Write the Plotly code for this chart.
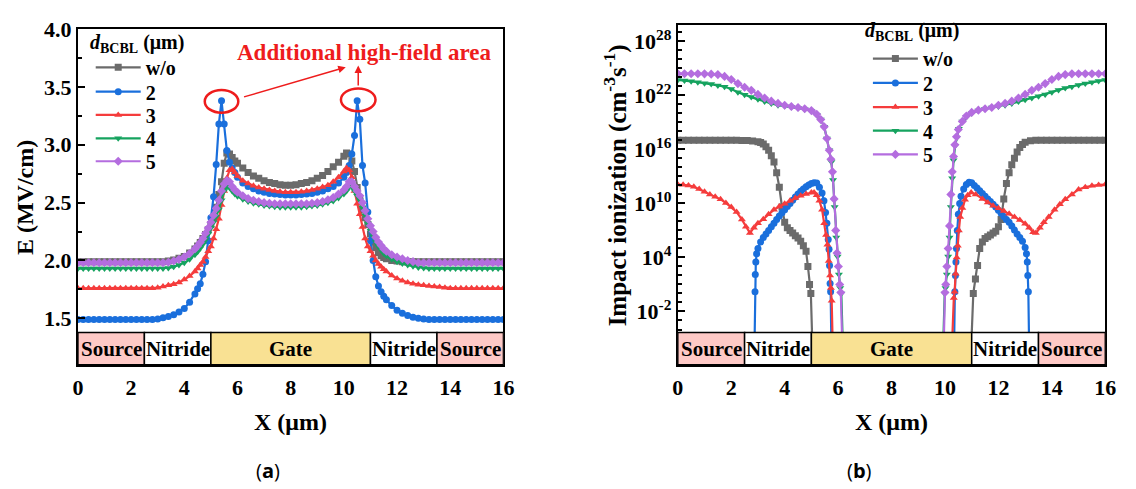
import plotly.graph_objects as go

SERIF = "Liberation Serif"
SANS = "Open Sans"

# ---------------- panel (a): electric field E (MV/cm) vs X (um) ----------------
x_field = [0.0,0.2,0.4,0.6,0.8,1.0,1.2,1.4,1.6,1.8,2.0,2.2,2.4,2.6,2.8,3.0,3.2,3.4,3.6,3.8,4.0,4.2,4.4,
           4.5,4.6,4.7,4.8,4.9,5.0,5.1,5.2,5.3,5.4,5.5,5.6,5.7,5.8,5.9,6.0,
           6.2,6.4,6.6,6.8,7.0,7.2,7.4,7.6,7.8,8.0,8.2,8.4,8.6,8.8,9.0,9.2,9.4,9.6,9.8,
           10.0,10.1,10.2,10.3,10.4,10.5,10.6,10.7,10.8,10.9,11.0,11.1,11.2,11.3,11.4,11.5,
           11.6,11.8,12.0,12.2,12.4,12.6,12.8,13.0,13.2,13.4,13.6,13.8,14.0,14.2,14.4,14.6,14.8,15.0,15.2,15.4,15.6,15.8,16.0]

E_wo = [1.99,1.99,1.99,1.99,1.99,1.99,1.99,1.99,1.99,1.99,1.99,1.99,1.99,1.99,1.99,1.99,1.99,
        1.995,2.005,2.02,2.035,2.065,2.10,
        2.125,2.155,2.19,2.225,2.265,2.31,2.37,2.46,2.57,2.68,2.84,2.93,2.92,2.89,2.86,2.84,
        2.80,2.76,2.73,2.71,2.69,2.675,2.665,2.655,2.65,2.65,
        2.655,2.665,2.675,2.69,2.71,2.735,2.77,2.81,2.85,
        2.90,2.93,2.92,2.86,2.77,2.63,2.52,2.44,2.37,2.31,2.23,2.16,2.11,2.07,2.04,2.025,
        2.015,2.0,1.995,1.99,1.99,1.99,1.99,1.99,1.99,1.99,1.99,1.99,1.99,1.99,1.99,1.99,1.99,1.99,1.99,1.99,1.99,1.99,1.99]

E_2 = [1.49,1.49,1.49,1.49,1.49,1.49,1.49,1.49,1.49,1.49,1.49,1.49,1.49,1.49,1.49,
       1.495,1.505,1.515,1.53,1.555,1.585,1.64,1.71,
       1.755,1.80,1.88,1.99,2.17,2.37,2.55,2.83,3.18,3.38,3.18,2.95,2.85,2.80,2.76,2.72,
       2.67,2.64,2.62,2.60,2.59,2.58,2.575,2.57,2.565,2.565,
       2.565,2.57,2.575,2.58,2.59,2.60,2.62,2.64,2.67,
       2.72,2.76,2.82,2.92,3.08,3.38,3.22,2.82,2.67,2.42,2.17,2.0,1.86,1.78,1.73,1.69,
       1.66,1.61,1.57,1.545,1.525,1.51,1.50,1.495,
       1.49,1.49,1.49,1.49,1.49,1.49,1.49,1.49,1.49,1.49,1.49,1.49,1.49,1.49,1.49]

E_3 = [1.76,1.76,1.76,1.76,1.76,1.76,1.76,1.76,1.76,1.76,1.76,1.76,1.76,1.76,1.76,
       1.765,1.775,1.785,1.795,1.81,1.835,1.865,1.905,
       1.93,1.96,1.99,2.03,2.08,2.12,2.19,2.27,2.36,2.48,2.60,2.71,2.78,2.79,2.76,2.73,
       2.69,2.665,2.645,2.63,2.62,2.61,2.60,2.595,2.59,2.59,
       2.59,2.595,2.60,2.61,2.62,2.635,2.65,2.68,2.72,
       2.77,2.80,2.78,2.72,2.60,2.49,2.40,2.29,2.19,2.12,2.08,2.04,2.0,1.97,1.945,1.925,
       1.905,1.87,1.845,1.825,1.81,1.80,1.79,1.785,1.78,1.775,1.77,1.765,
       1.76,1.76,1.76,1.76,1.76,1.76,1.76,1.76,1.76,1.76,1.76]

E_4 = [1.93,1.93,1.93,1.93,1.93,1.93,1.93,1.93,1.93,1.93,1.93,1.93,1.93,1.93,1.93,1.93,1.93,
       1.935,1.945,1.96,1.98,2.01,2.05,
       2.075,2.105,2.14,2.18,2.23,2.28,2.33,2.38,2.44,2.52,2.60,2.64,2.63,2.60,2.575,2.555,
       2.53,2.51,2.495,2.485,2.475,2.47,2.465,2.46,2.46,2.46,
       2.46,2.46,2.465,2.47,2.475,2.485,2.50,2.515,2.54,
       2.575,2.60,2.635,2.64,2.60,2.56,2.52,2.46,2.39,2.32,2.26,2.21,2.16,2.12,2.09,2.06,
       2.04,2.01,1.99,1.975,1.96,1.95,1.94,1.935,
       1.93,1.93,1.93,1.93,1.93,1.93,1.93,1.93,1.93,1.93,1.93,1.93,1.93,1.93,1.93]

E_5 = [1.98,1.98,1.98,1.98,1.98,1.98,1.98,1.98,1.98,1.98,1.98,1.98,1.98,1.98,1.98,1.98,1.98,
       1.985,1.995,2.01,2.03,2.06,2.10,
       2.125,2.155,2.19,2.235,2.28,2.33,2.39,2.45,2.52,2.60,2.66,2.69,2.68,2.64,2.61,2.59,
       2.56,2.535,2.52,2.51,2.50,2.495,2.49,2.49,2.49,2.49,
       2.49,2.49,2.49,2.495,2.50,2.51,2.525,2.545,2.575,
       2.61,2.64,2.68,2.68,2.64,2.60,2.56,2.50,2.43,2.36,2.30,2.25,2.20,2.16,2.13,2.10,
       2.08,2.05,2.03,2.015,2.0,1.99,
       1.98,1.98,1.98,1.98,1.98,1.98,1.98,1.98,1.98,1.98,1.98,1.98,1.98,1.98,1.98,1.98,1.98]

# ---------------- panel (b): impact ionization, log10 (cm^-3 s^-1) ----------------
x_ii_wo = [0.0,0.2,0.4,0.6,0.8,1.0,1.2,1.4,1.6,1.8,2.0,2.2,2.4,2.6,2.8,
           3.0,3.1,3.2,3.3,3.4,3.5,3.6,3.7,3.8,3.9,4.0,4.1,4.2,4.3,4.4,4.5,4.6,4.7,4.8,
           4.87,4.93,4.98,5.04,
           10.98,11.06,11.14,11.22,11.3,11.4,11.5,11.6,11.7,11.8,11.9,12.0,12.1,12.2,12.3,12.4,12.5,
           12.6,12.7,12.8,12.9,13.0,13.2,13.4,13.6,13.8,14.0,14.2,14.4,14.6,14.8,15.0,15.2,15.4,15.6,15.8,16.0]
log_ii_wo = [17.0,17.0,17.0,17.0,17.0,17.0,17.0,17.0,17.0,17.0,17.0,17.0,16.98,16.97,16.94,
             16.85,16.75,16.6,16.3,15.9,15.3,14.6,13.4,11.8,9.6,7.9,7.3,7.0,6.7,6.4,6.15,5.8,5.3,4.7,
             3.0,1.0,0.0,-6.0,
             -6.0,0.0,1.6,3.1,5.0,5.7,6.1,6.3,6.5,6.7,6.9,7.4,8.2,10.5,12.2,13.4,14.3,
             15.0,15.7,16.2,16.55,16.8,16.95,17.0,17.0,17.0,17.0,17.0,17.0,17.0,17.0,17.0,17.0,17.0,17.0,17.0,17.0]

x_ii_2 = [2.87,2.89,2.9,2.92,2.95,
          3.0,3.1,3.2,3.3,3.4,3.5,3.6,3.7,3.8,3.9,4.0,4.1,4.2,4.3,4.4,4.5,4.6,4.7,4.8,4.9,5.0,5.1,5.2,5.3,5.4,
          5.47,5.53,5.58,5.63,5.66,5.68,5.7,5.72,5.75,
          10.34,10.37,10.39,10.41,10.43,10.46,10.5,10.55,10.6,
          10.7,10.8,10.9,11.0,11.1,11.2,11.3,11.4,11.5,11.6,11.7,11.8,11.9,12.0,12.1,12.2,12.3,12.4,12.5,12.6,
          12.7,12.8,12.9,13.0,
          13.05,13.08,13.1,13.12,13.15]
log_ii_2 = [-6.0,0.2,2.1,3.5,4.4,
            5.0,5.7,6.2,6.6,7.0,7.4,7.8,8.2,8.6,8.95,9.3,9.65,10.0,10.35,10.7,11.05,11.35,11.6,11.85,12.05,
            12.2,12.3,12.25,11.8,11.15,
            10.3,9.0,7.8,6.0,4.9,3.1,1.1,0.2,-6.0,
            -6.0,0.2,2.0,3.5,5.0,7.0,8.8,10.0,10.8,
            11.6,12.1,12.35,12.3,12.0,11.7,11.4,11.1,10.8,10.5,10.2,9.9,9.6,9.25,8.9,8.55,8.2,7.9,7.5,7.05,
            6.6,6.2,5.8,5.1,
            4.4,3.5,2.0,0.2,-6.0]

x_ii_3 = [0.0,0.2,0.4,0.6,0.8,1.0,1.2,1.4,1.6,1.8,2.0,2.2,2.4,2.55,2.7,2.85,
          3.0,3.2,3.4,3.6,3.8,4.0,4.2,4.4,4.6,4.8,5.0,5.1,5.2,5.3,5.4,
          5.48,5.55,5.6,5.65,5.7,5.73,5.76,5.8,
          10.26,10.33,10.36,10.4,10.44,10.48,10.52,10.57,10.65,10.75,10.85,10.98,11.15,11.4,11.6,11.8,
          12.0,12.2,12.4,12.6,12.8,13.0,13.15,13.3,13.4,13.55,13.7,13.88,14.1,14.3,14.5,14.75,15.0,
          15.25,15.5,15.75,16.0]
log_ii_3 = [12.1,12.07,12.0,11.85,11.6,11.3,11.0,10.75,10.45,10.05,9.6,9.05,8.2,7.4,6.7,7.3,
            7.8,8.25,8.8,9.3,9.65,9.95,10.3,10.6,10.85,11.05,11.2,11.2,10.9,10.3,9.3,
            7.8,6.5,5.4,3.6,2.0,0.6,-0.8,-6.0,
            -6.0,-0.5,0.2,2.2,4.0,5.3,7.0,8.5,9.5,10.4,10.9,11.2,11.0,10.5,10.1,9.75,
            9.45,9.15,8.85,8.5,8.15,7.75,7.3,6.8,6.7,7.3,7.9,8.5,9.3,9.9,10.45,11.0,11.55,
            11.8,11.95,12.05,12.1]

x_ii_4 = [0.0,0.25,0.5,0.75,1.0,1.25,1.5,1.75,2.0,2.25,2.5,2.75,3.0,3.25,3.5,3.75,4.0,4.25,4.5,4.75,5.0,
          5.2,5.35,5.48,5.58,5.67,5.75,5.81,5.87,5.93,5.98,6.03,6.08,6.12,6.18,
          9.93,9.99,10.02,10.07,10.12,10.17,10.22,10.27,10.32,10.38,10.44,10.52,10.65,10.8,
          11.0,11.25,11.5,11.75,12.0,12.25,12.5,12.75,13.0,13.25,13.5,13.75,14.0,14.25,14.5,14.75,15.0,
          15.25,15.5,15.75,16.0]
log_ii_4 = [23.7,23.65,23.55,23.45,23.35,23.25,23.1,22.95,22.7,22.35,22.05,21.8,21.55,21.3,21.1,20.9,
            20.8,20.7,20.6,20.45,20.25,
            19.85,19.3,18.5,17.2,15.9,14.6,12.6,9.6,6.2,4.1,2.1,0.6,0.0,-6.0,
            -6.0,0.0,0.6,2.1,4.1,6.2,9.6,12.8,14.8,16.4,17.3,18.3,19.1,19.6,
            20.0,20.3,20.5,20.65,20.75,20.9,21.1,21.3,21.5,21.7,21.9,22.1,22.35,22.6,22.8,22.95,23.15,
            23.3,23.45,23.6,23.7]

x_ii_5 = [0.0,0.25,0.5,0.75,1.0,1.25,1.5,1.75,2.0,2.25,2.5,2.75,3.0,3.25,3.5,3.75,4.0,4.25,4.5,4.75,5.0,
          5.2,5.35,5.48,5.58,5.67,5.73,5.79,5.85,5.91,5.96,6.01,6.06,6.1,6.16,
          9.95,10.0,10.03,10.07,10.12,10.17,10.22,10.27,10.32,10.37,10.43,10.5,10.65,10.8,
          11.0,11.25,11.5,11.75,12.0,12.25,12.5,12.75,13.0,13.25,13.5,13.75,14.0,14.25,14.5,14.75,15.0,
          15.25,15.5,15.75,16.0]
log_ii_5 = [24.4,24.4,24.4,24.4,24.38,24.35,24.3,24.1,23.75,23.3,22.9,22.55,22.1,21.7,21.35,21.1,
            20.9,20.75,20.65,20.5,20.3,
            19.9,19.3,18.5,17.2,15.9,14.9,13.5,10.5,7.0,4.5,3.0,1.0,0.1,-6.0,
            -6.0,0.1,1.0,3.0,5.0,7.5,11.0,13.5,15.2,16.5,17.4,18.2,19.1,19.7,
            20.1,20.35,20.5,20.65,20.9,21.1,21.35,21.7,22.1,22.55,22.9,23.3,23.75,24.1,24.3,24.38,24.4,
            24.4,24.4,24.4,24.4]

series_names = ["w/o", "2", "3", "4", "5"]
series_colors = ["#6b6b6b", "#1a6fdc", "#f53c3c", "#16a35f", "#b46ddf"]
series_symbols = ["square", "circle", "triangle-up", "triangle-down", "diamond"]
field_series = [E_wo, E_2, E_3, E_4, E_5]
ii_x = [x_ii_wo, x_ii_2, x_ii_3, x_ii_4, x_ii_5]
ii_log = [log_ii_wo, log_ii_2, log_ii_3, log_ii_4, log_ii_5]

regions = ["Source", "Nitride", "Gate", "Nitride", "Source"]
region_start = [0.0, 2.5, 5.0, 11.0, 13.5]
region_end = [2.5, 5.0, 11.0, 13.5, 16.0]
region_fill = ["#FEC9C6", "#FFFFFF", "#F9E193", "#FFFFFF", "#FEC9C6"]

for ys in field_series:
    assert len(ys) == len(x_field), len(ys)
for xs, ls in zip(ii_x, ii_log):
    assert len(xs) == len(ls), (len(xs), len(ls))

W, H = 1136, 489

# legend entry rows (pixel anchors) for each panel
leg_rows_a = [56.7, 81.7, 105.5, 129.5, 153.0]
leg_rows_b = [47.7, 72.7, 97.5, 121.7, 146.0]

fig = go.Figure()
for i, (name, col, sym, ys) in enumerate(zip(series_names, series_colors, series_symbols, field_series)):
    fig.add_trace(go.Scatter(x=x_field, y=ys, name=name, mode="lines+markers",
                             line=dict(color=col, width=2.2),
                             marker=dict(symbol=sym, size=7, color=col),
                             xaxis="x", yaxis="y", legend="legend" if i == 0 else "legend%d" % (i + 1)))
for i, (name, col, sym, xs, ls) in enumerate(zip(series_names, series_colors, series_symbols, ii_x, ii_log)):
    fig.add_trace(go.Scatter(x=xs, y=[10.0 ** v for v in ls], name=name, mode="lines+markers",
                             line=dict(color=col, width=2.2),
                             marker=dict(symbol=sym, size=7, color=col),
                             xaxis="x2", yaxis="y2", legend="legend%d" % (i + 6)))

L_dom_x = [73 / W, 505 / W]
L_dom_y = [1 - 361.5 / H, 1 - 17.5 / H]
R_dom_x = [682 / W, 1116 / W]
R_dom_y = [1 - 361.5 / H, 1 - 13 / H]
band_L = 33 / 344
band_R = 33 / 348.5

TICK = 22
tickfont = dict(family=SERIF, size=TICK, color="black", weight="bold")
common_x = dict(range=[0, 16], tickvals=list(range(0, 17, 2)), ticks="", showline=True, mirror=True,
                linecolor="black", linewidth=2, showgrid=False, zeroline=False, tickfont=tickfont,
                ticklabelstandoff=2)

major_dec = [-2, 4, 10, 16, 22, 28]
legfont = dict(family=SERIF, size=20, color="black", weight="bold")
fig.update_layout(
    width=W, height=H, margin=dict(l=0, r=0, t=0, b=0),
    paper_bgcolor="white", plot_bgcolor="white", showlegend=True,
    font=dict(family=SERIF, size=20, color="black", weight="bold"),
    xaxis=dict(domain=L_dom_x, anchor="y", **common_x),
    yaxis=dict(domain=L_dom_y, anchor="x", range=[1.1, 4.0],
               tickvals=[1.5, 2.0, 2.5, 3.0, 3.5, 4.0], ticktext=["1.5", "2.0", "2.5", "3.0", "3.5", "4.0"],
               ticks="inside", ticklen=7, tickwidth=2, tickcolor="black",
               minor=dict(tickvals=[1.75, 2.25, 2.75, 3.25, 3.75], ticks="inside", ticklen=4, tickwidth=2,
                          tickcolor="black", showgrid=False),
               showline=True, mirror=True, linecolor="black", linewidth=2, showgrid=False, zeroline=False,
               tickfont=tickfont),
    xaxis2=dict(domain=R_dom_x, anchor="y2", **common_x),
    yaxis2=dict(domain=R_dom_y, anchor="x2", type="log", range=[-7.9, 29.84],
                tickvals=[10.0 ** k for k in major_dec],
                ticktext=["10<sup>%d</sup>" % k for k in major_dec],
                ticks="inside", ticklen=7, tickwidth=2, tickcolor="black",
                minor=dict(tickvals=[10.0 ** k for k in range(-4, 30) if k not in major_dec], ticks="inside",
                           ticklen=4, tickwidth=2, tickcolor="black", showgrid=False),
                showline=True, mirror=True, linecolor="black", linewidth=2, showgrid=False, zeroline=False,
                tickfont=tickfont),
)

legend_layout = {}
for i in range(5):
    key_a = "legend" if i == 0 else "legend%d" % (i + 1)
    key_b = "legend%d" % (i + 6)
    legend_layout[key_a] = dict(x=86 / W, y=1 - leg_rows_a[i] / H, xanchor="left", yanchor="middle",
                                bgcolor="rgba(0,0,0,0)", font=legfont, itemwidth=45, tracegroupgap=0,
                                visible=True)
    legend_layout[key_b] = dict(x=875 / W, y=1 - leg_rows_b[i] / H, xanchor="left", yanchor="middle",
                                bgcolor="rgba(0,0,0,0)", font=legfont, itemwidth=45, tracegroupgap=0,
                                visible=True)
fig.update_layout(**legend_layout)

shapes = []
annotations = []
for xa, ya, frac in (("x", "y domain", band_L), ("x2", "y2 domain", band_R)):
    for name, s, e, fc in zip(regions, region_start, region_end, region_fill):
        shapes.append(dict(type="rect", xref=xa, yref=ya, x0=s, x1=e, y0=0, y1=frac,
                           fillcolor=fc, line=dict(color="black", width=1.5), layer="above"))
        annotations.append(dict(xref=xa, yref=ya, x=(s + e) / 2, y=frac / 2, text=name, showarrow=False,
                                xanchor="center", yanchor="middle",
                                font=dict(family=SERIF, size=21, color="black", weight="bold")))

# highlight ellipses around the peaks of panel (a)
RED = "#ee1c1c"
shapes.append(dict(type="circle", xref="x", yref="y", x0=4.77, x1=6.03, y0=3.277, y1=3.473,
                   line=dict(color=RED, width=2.5), layer="above"))
shapes.append(dict(type="circle", xref="x", yref="y", x0=9.89, x1=11.19, y0=3.29, y1=3.487,
                   line=dict(color=RED, width=2.5), layer="above"))
annotations.append(dict(xref="x", yref="y", x=10.74, y=3.80, text="Additional high-field area",
                        showarrow=False, xanchor="center", yanchor="middle",
                        font=dict(family=SERIF, size=23, color=RED, weight="bold")))
annotations.append(dict(xref="x", yref="y", x=10.07, y=3.67, axref="x", ayref="y", ax=6.19, ay=3.41,
                        text="", showarrow=True, arrowhead=2, arrowsize=1, arrowwidth=1.5, arrowcolor=RED))
annotations.append(dict(xref="x", yref="y", x=10.54, y=3.685, axref="x", ayref="y", ax=10.54, ay=3.50,
                        text="", showarrow=True, arrowhead=2, arrowsize=1, arrowwidth=1.5, arrowcolor=RED))

# legend titles
for lx, ly in ((83, 32), (870, 20)):
    annotations.append(dict(xref="paper", yref="paper", x=lx / W, y=1 - ly / H, xanchor="left",
                            yanchor="middle", showarrow=False,
                            text="<i>d</i><sub>BCBL</sub> (μm)", font=legfont))

# axis titles and panel captions
title_font = dict(family=SERIF, size=24, color="black", weight="bold")
annotations += [
    dict(xref="paper", yref="paper", x=20 / W, y=1 - 190 / H, text="E (MV/cm)", textangle=-90,
         xanchor="center", yanchor="middle", showarrow=False, font=title_font),
    dict(xref="paper", yref="paper", x=619 / W, y=1 - 178 / H,
         text="Impact ionization (cm<sup>-3</sup>s<sup>-1</sup>)", textangle=-90,
         xanchor="center", yanchor="middle", showarrow=False,
         font=dict(family=SERIF, size=25, color="black", weight="bold")),
    dict(xref="paper", yref="paper", x=289 / W, y=1 - 420 / H, text="X (μm)", showarrow=False,
         xanchor="center", yanchor="middle", font=title_font),
    dict(xref="paper", yref="paper", x=899 / W, y=1 - 420 / H, text="X (μm)", showarrow=False,
         xanchor="center", yanchor="middle", font=title_font),
    dict(xref="paper", yref="paper", x=266 / W, y=1 - 470 / H, text="(<b>a</b>)", showarrow=False,
         xanchor="center", yanchor="middle", font=dict(family=SANS, size=20, color="black", weight="normal")),
    dict(xref="paper", yref="paper", x=866 / W, y=1 - 470 / H, text="(<b>b</b>)", showarrow=False,
         xanchor="center", yanchor="middle", font=dict(family=SANS, size=20, color="black", weight="normal")),
]

fig.update_layout(shapes=shapes, annotations=annotations)
fig.write_html("out.html")
